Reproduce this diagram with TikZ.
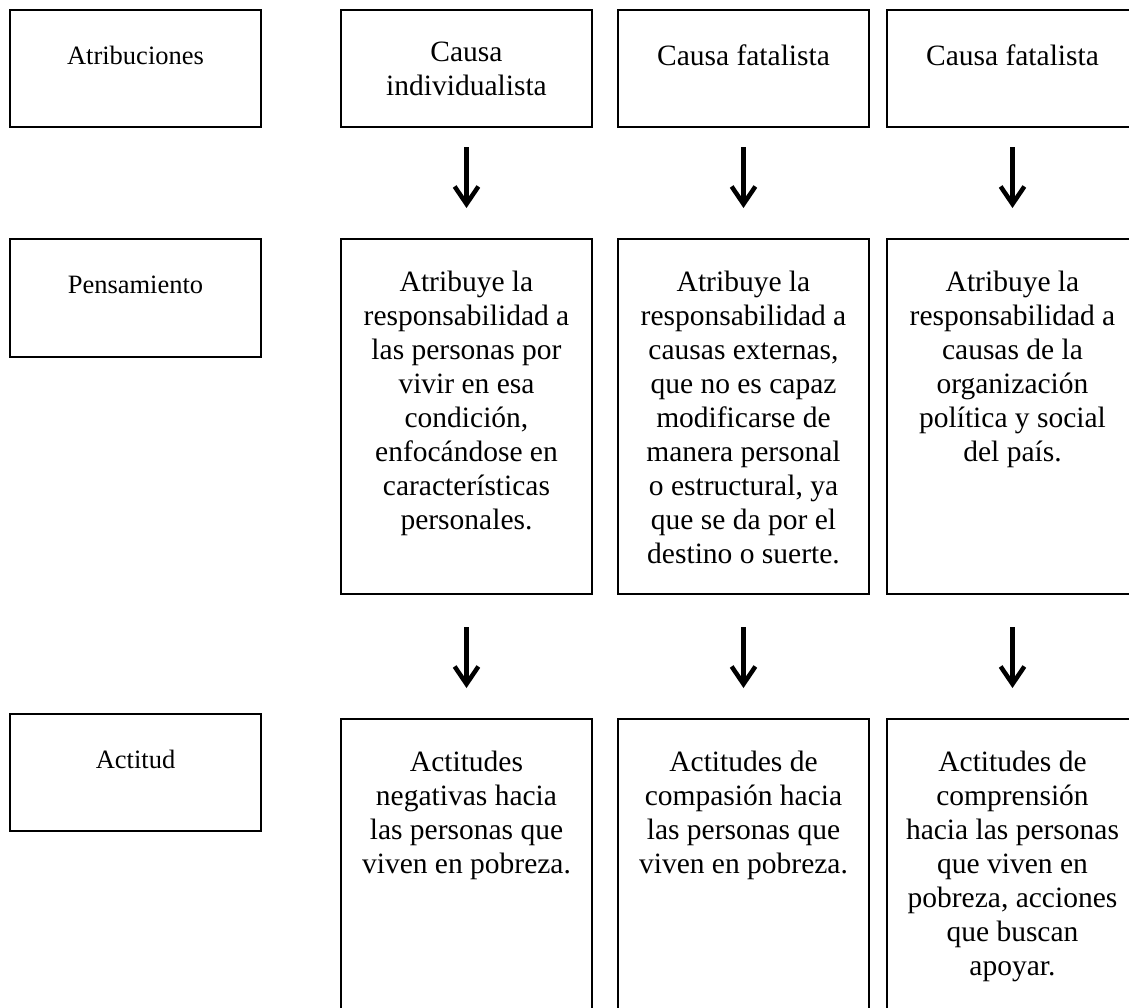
\documentclass[tikz,border=0pt]{standalone}
\usepackage{fontspec}
\setmainfont{Liberation Serif}
\usetikzlibrary{arrows.meta,positioning}

\begin{document}
\begin{tikzpicture}[x=0.4pt,y=-0.4pt,
    >={Straight Barb[length=7pt,width=9.5pt]},
    caja/.style={draw,line width=0.8pt,minimum width=100.4pt,inner sep=0pt},
    txt/.style={inner sep=0pt,align=center,font=\fontsize{11.8}{13.6}\selectfont,execute at begin node=\strut},
    etq/.style={txt,font=\fontsize{10.6}{13.6}\selectfont},
    flecha/.style={->,line width=1.8pt}]
  \useasboundingbox (0,0) rectangle (1129,1008);
  \clip (0,0) rectangle (1129,1008);
  % etiquetas de la izquierda
  \node[caja,minimum height=46.8pt] (atr) at (135.5,68.5) {};
  \node[caja,minimum height=47.2pt] (pen) at (135.5,298) {};
  \node[caja,minimum height=46.8pt] (act) at (135.5,772.5) {};
  \node[etq,below=12.4pt of atr.north] (tatr) {Atribuciones};
  \node[etq,below=12.4pt of pen.north] (tpen) {Pensamiento};
  \node[etq,below=12.4pt of act.north] (tact) {Actitud};
  % causas
  \node[caja,minimum height=46.8pt] (c1) at (466.5,68.5) {};
  \node[caja,minimum height=46.8pt] (c2) at (743.5,68.5) {};
  \node[caja,minimum height=46.8pt] (c3) at (1012.5,68.5) {};
  \node[txt,below=12.9pt of c1.north] (tc1) {Causa\\individualista};
  \node[txt,below=12.9pt of c2.north] (tc2) {Causa fatalista};
  \node[txt,below=12.9pt of c3.north] (tc3) {Causa fatalista};
  % pensamiento
  \node[caja,minimum height=142pt] (p1) at (466.5,416.5) {};
  \node[caja,minimum height=142pt] (p2) at (743.5,416.5) {};
  \node[caja,minimum height=142pt] (p3) at (1012.5,416.5) {};
  \node[txt,below=12.9pt of p1.north] (tp1) {Atribuye la\\responsabilidad a\\las personas por\\vivir en esa\\condición,\\enfocándose en\\características\\personales.};
  \node[txt,below=12.9pt of p2.north] (tp2) {Atribuye la\\responsabilidad a\\causas externas,\\que no es capaz\\modificarse de\\manera personal\\o estructural, ya\\que se da por el\\destino o suerte.};
  \node[txt,below=12.9pt of p3.north] (tp3) {Atribuye la\\responsabilidad a\\causas de la\\organización\\política y social\\del país.};
  % actitudes
  \node[caja,minimum height=124.4pt] (a1) at (466.5,874.5) {};
  \node[caja,minimum height=124.4pt] (a2) at (743.5,874.5) {};
  \node[caja,minimum height=124.4pt] (a3) at (1012.5,874.5) {};
  \node[txt,below=12.9pt of a1.north] (ta1) {Actitudes\\negativas hacia\\las personas que\\viven en pobreza.};
  \node[txt,below=12.9pt of a2.north] (ta2) {Actitudes de\\compasión hacia\\las personas que\\viven en pobreza.};
  \node[txt,below=12.9pt of a3.north] (ta3) {Actitudes de\\comprensión\\hacia las personas\\que viven en\\pobreza, acciones\\que buscan\\apoyar.};
  % flechas
  \foreach \i in {1,2,3}{
    \draw[flecha,shorten <=7.6pt,shorten >=12pt] (c\i) -- (p\i);
    \draw[flecha,shorten <=12.8pt,shorten >=12pt] (p\i) -- (a\i);
  }
\end{tikzpicture}
\end{document}
